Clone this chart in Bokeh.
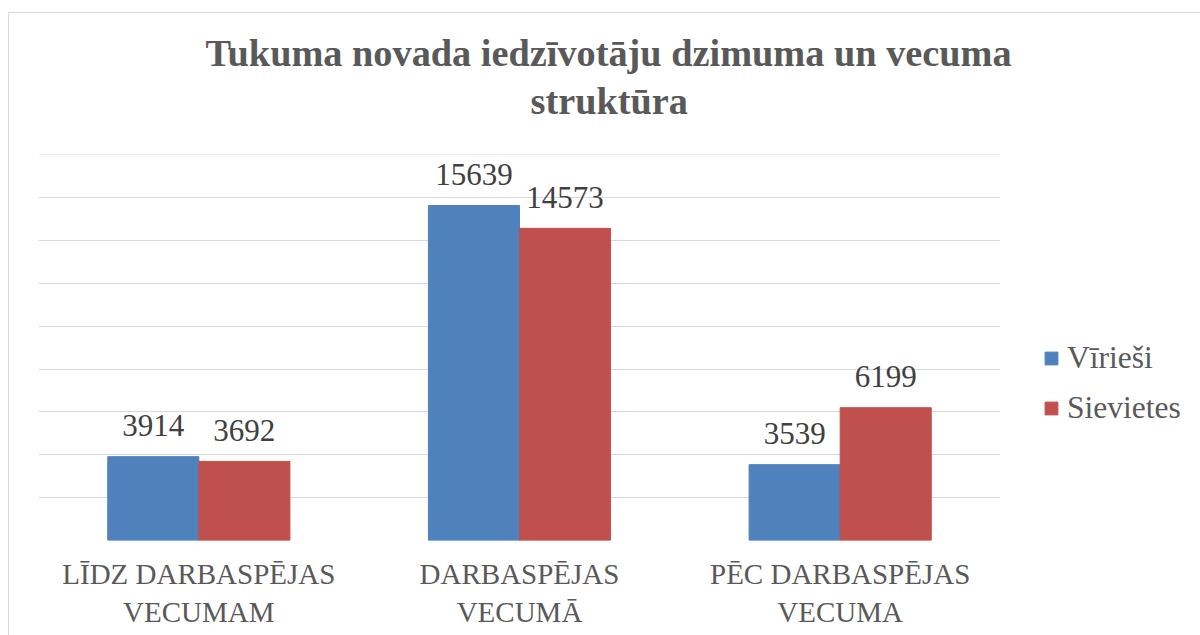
from bokeh.plotting import figure
from bokeh.models import ColumnDataSource, FactorRange, Title, Legend, LegendItem, Range1d, FixedTicker
from bokeh.transform import dodge
from bokeh.core.properties import value
from bokeh.embed import file_html
from bokeh.resources import INLINE

categories = ["LĪDZ DARBASPĒJAS\nVECUMAM", "DARBASPĒJAS\nVECUMĀ", "PĒC DARBASPĒJAS\nVECUMA"]
virieši = [3914, 15639, 3539]
sievietes = [3692, 14573, 6199]
series_names = ["Vīrieši", "Sievietes"]
title_line1 = "Tukuma novada iedzīvotāju dzimuma un vecuma"
title_line2 = "struktūra"

FONT = "Liberation Serif"
BLUE = "#4F81BD"
RED = "#C0504D"

src = ColumnDataSource(dict(
    cat=categories,
    v=virieši,
    s=sievietes,
    vt=[str(x) for x in virieši],
    st=[str(x) for x in sievietes],
))

p = figure(
    x_range=FactorRange(*categories, range_padding=0),
    y_range=Range1d(0, 18020),
    frame_width=962, frame_height=386,
    output_backend="svg", toolbar_location=None, title=None,
    min_border_left=29, min_border_right=200, min_border_bottom=95, min_border_top=141,
)
p.styles = {"margin-left": "8px", "margin-top": "12px",
            "border-left": "1px solid #d9d9d9", "border-top": "1px solid #d9d9d9"}
p.outline_line_color = None
p.background_fill_color = "white"

t2 = Title(text=title_line2, align="left", text_font=FONT, text_font_size="38.3px",
           text_font_style="bold", text_color="#595959", standoff=66, offset=492)
t1 = Title(text=title_line1, align="left", text_font=FONT, text_font_size="38.3px",
           text_font_style="bold", text_color="#595959", standoff=-59, offset=167)
p.add_layout(t2, "above")
p.add_layout(t1, "above")

bw = 0.284
r1 = p.vbar(x=dodge("cat", -bw / 2, range=p.x_range), top="v", width=bw, source=src,
            fill_color=BLUE, line_color=BLUE)
r2 = p.vbar(x=dodge("cat", bw / 2, range=p.x_range), top="s", width=bw, source=src,
            fill_color=RED, line_color=RED)

p.text(x=dodge("cat", -bw / 2, range=p.x_range), y="v", text="vt", source=src,
       text_align="center", text_baseline="alphabetic", y_offset=-31,
       text_font=value(FONT), text_font_size="31px", text_color="#404040")
p.text(x=dodge("cat", bw / 2, range=p.x_range), y="s", text="st", source=src,
       text_align="center", text_baseline="alphabetic", y_offset=-31,
       text_font=value(FONT), text_font_size="31px", text_color="#404040")

p.yaxis.visible = False
p.ygrid.ticker = FixedTicker(ticks=list(range(0, 18001, 2000)))
p.ygrid.grid_line_color = "#d9d9d9"
p.ygrid.grid_line_width = 1
p.xgrid.grid_line_color = None

p.xaxis.axis_line_color = None
p.xaxis.major_tick_line_color = None
p.xaxis.minor_tick_line_color = None
p.xaxis.major_label_text_font = FONT
p.xaxis.major_label_text_font_size = "29px"
p.xaxis.major_label_text_color = "#595959"
p.xaxis.major_label_standoff = 11

legend = Legend(items=[LegendItem(label=series_names[0], renderers=[r1]),
                       LegendItem(label=series_names[1], renderers=[r2])],
                location=(43, 114), padding=0, margin=0, border_line_color=None,
                background_fill_alpha=0, glyph_width=16, glyph_height=16,
                label_text_font=FONT, label_text_font_size="31.5px", label_text_color="#595959",
                spacing=14, label_standoff=8)
p.add_layout(legend, "right")

open("out.html", "w").write(file_html(p, INLINE))
